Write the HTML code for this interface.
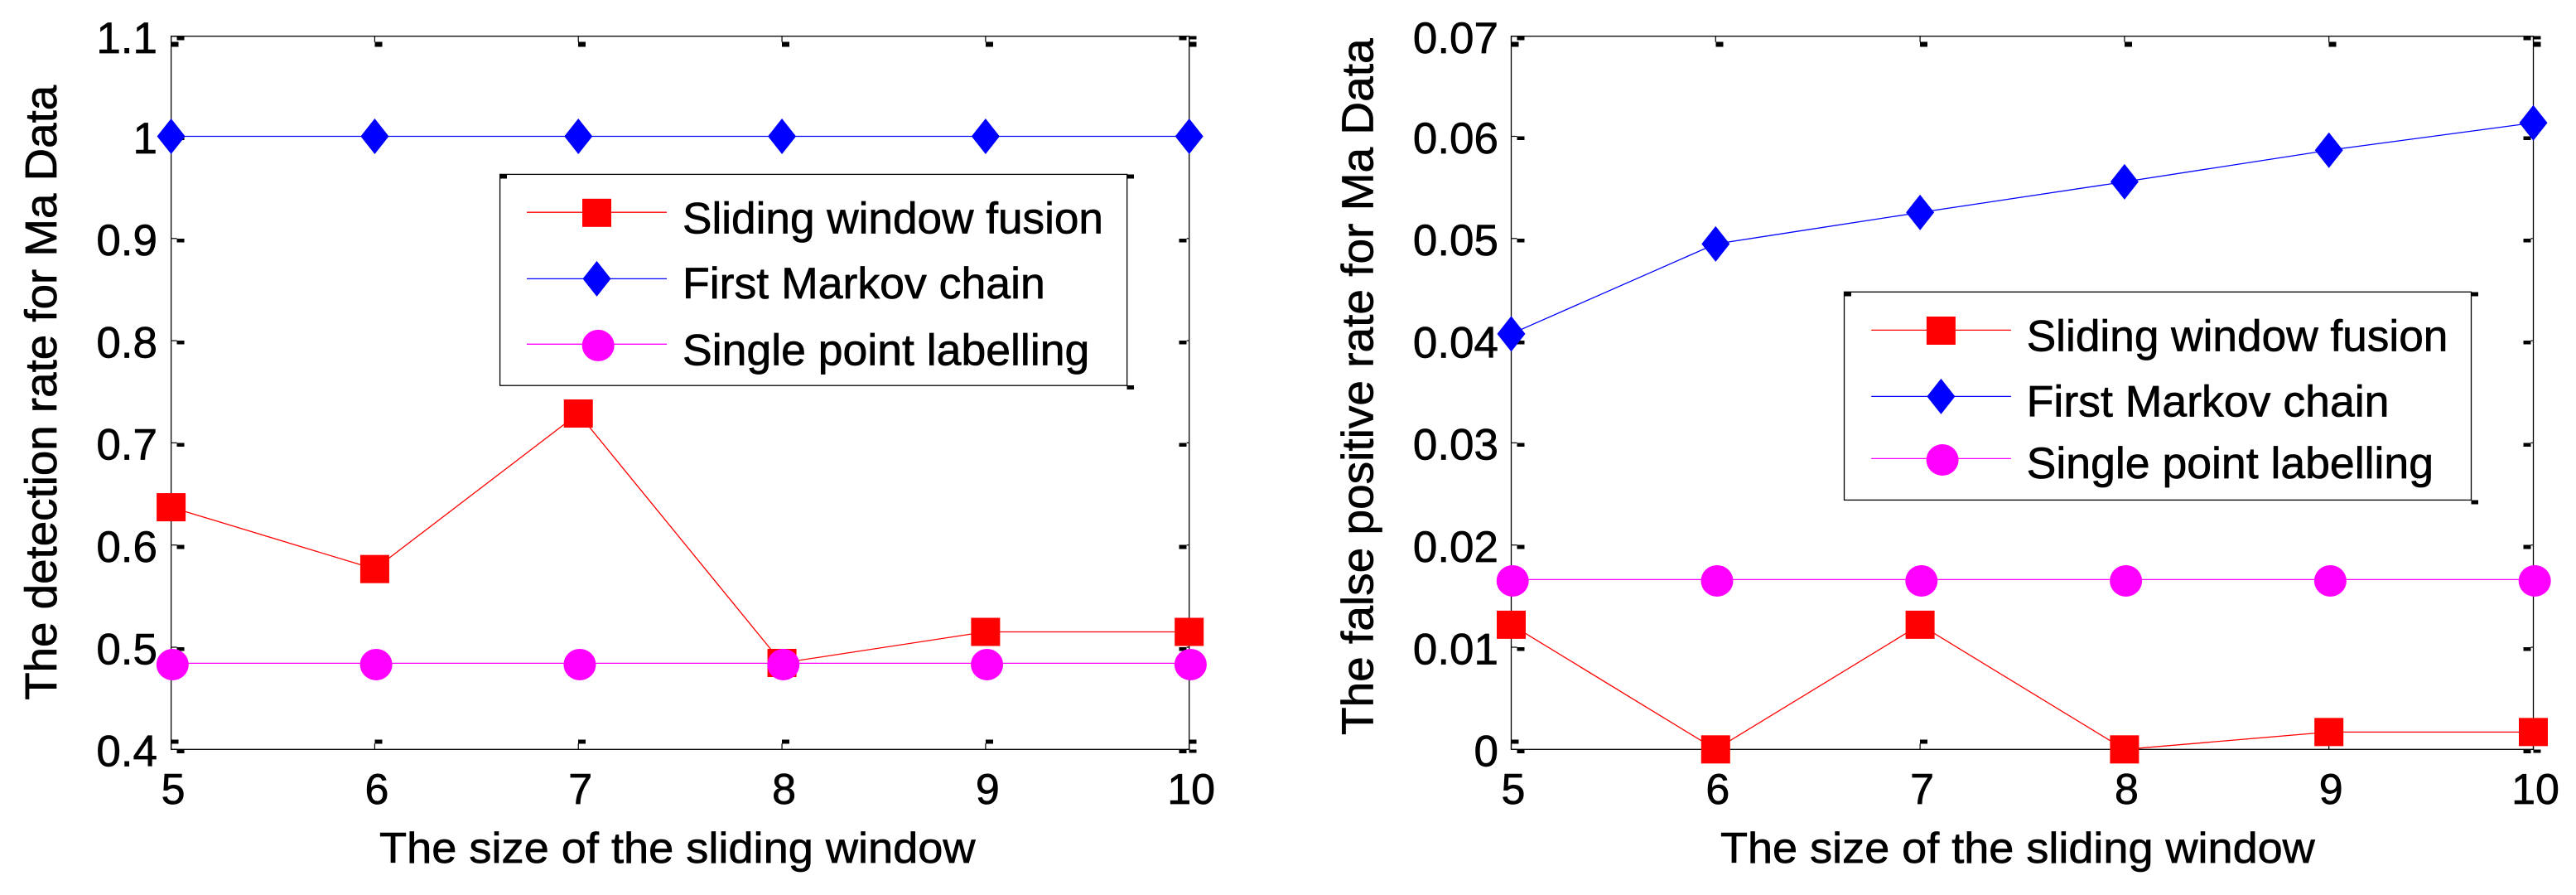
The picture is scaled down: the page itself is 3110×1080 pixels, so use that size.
<!DOCTYPE html>
<html>
<head>
<meta charset="utf-8">
<title>Detection and false positive rates for Ma Data</title>
<style>
html,body{margin:0;padding:0;background:#fff;}
svg{display:block;}
text{font-family:"Liberation Sans",sans-serif;fill:#000;stroke:#000;stroke-width:0.7px;}
</style>
</head>
<body>
<svg id="figure" xmlns="http://www.w3.org/2000/svg" width="3110" height="1080" viewBox="0 0 3110 1080">
  <rect x="0" y="0" width="3110" height="1080" fill="#fff"/>
  <g id="left-chart"></g>
  <g id="right-chart"></g>
</svg>
<script>
// Shared categories
const windowSizes = [5, 6, 7, 8, 9, 10];
const seriesNames = ["Sliding window fusion", "First Markov chain", "Single point labelling"];

// Left chart values
const detectionYTicks = [1.1, 1, 0.9, 0.8, 0.7, 0.6, 0.5, 0.4];
const detectionYLabels = ["1.1", "1", "0.9", "0.8", "0.7", "0.6", "0.5", "0.4"];
const detectionSliding = [0.637, 0.5765, 0.7287, 0.4846, 0.515, 0.515];
const detectionMarkov = [1, 1, 1, 1, 1, 1];
const detectionSingle = [0.4843, 0.4843, 0.4843, 0.4843, 0.4843, 0.4843];

// Right chart values
const falsePosYTicks = [0.07, 0.06, 0.05, 0.04, 0.03, 0.02, 0.01, 0];
const falsePosYLabels = ["0.07", "0.06", "0.05", "0.04", "0.03", "0.02", "0.01", "0"];
const falsePosSliding = [0.0122, 0, 0.0122, 0, 0.0017, 0.0017];
const falsePosMarkov = [0.04067, 0.04947, 0.05255, 0.05555, 0.05864, 0.06132];
const falsePosSingle = [0.01662, 0.01662, 0.01662, 0.01662, 0.01662, 0.01662];

const SVGNS = "http://www.w3.org/2000/svg";
const COLORS = ["#ff0000", "#0000ff", "#ff00ff"];
const KEYS = ["sliding-window-fusion", "first-markov-chain", "single-point-labelling"];

function mk(parent, tag, attrs, txt) {
  const el = document.createElementNS(SVGNS, tag);
  for (const k in attrs) el.setAttribute(k, attrs[k]);
  if (txt !== undefined) el.textContent = txt;
  parent.appendChild(el);
  return el;
}

function drawMarker(parent, kind, cx, cy, name) {
  let el;
  if (kind === 0) {
    el = mk(parent, "rect", {x: cx - 17.5, y: cy - 17, width: 35, height: 34, fill: COLORS[0]});
  } else if (kind === 1) {
    el = mk(parent, "polygon", {
      points: (cx - 17) + "," + cy + " " + cx + "," + (cy - 21.5) + " " + (cx + 17) + "," + cy + " " + cx + "," + (cy + 21.5),
      fill: COLORS[1]
    });
  } else {
    el = mk(parent, "ellipse", {cx: cx + 1.7, cy: cy + 1.6, rx: 19.5, ry: 19, fill: COLORS[2]});
  }
  
  
  return el;
}

function blob(parent, x, y, w, h) {
  const el = mk(parent, "rect", {x: x, y: y, width: w, height: h, fill: "#000", "shape-rendering": "crispEdges"});
  
  
}

function tickLine(parent, x1, y1, x2, y2) {
  const el = mk(parent, "line", {x1: x1, y1: y1, x2: x2, y2: y2, stroke: "#000", "stroke-width": 1.2});
  
  
}

function label(parent, x, y, str, name, extra) {
  const a = Object.assign({x: x, y: y, "font-size": 53}, extra || {});
  const el = mk(parent, "text", a, str);
  
  
  return el;
}

function drawChart(cfg) {
  const g = document.getElementById(cfg.id);
  const top = 43.7, bottom = 904.3;
  const xs = v => cfg.left + (v - windowSizes[0]) / (windowSizes[windowSizes.length - 1] - windowSizes[0]) * (cfg.right - cfg.left);
  const ys = v => bottom - (v - cfg.yMin) * cfg.pxPerUnit;

  // ticks on all four sides
  windowSizes.forEach(v => {
    const x = xs(v);
    tickLine(g, x, top, x, top + 7);
    blob(g, x, top + 7, 9, 6);
    tickLine(g, x, bottom - 7, x, bottom);
    blob(g, x, bottom - 12, 9, 5);
    const t = label(g, x + 2.5, 969.8, String(v), "x-tick-label-" + v, {"text-anchor": "middle"});
    t.setAttribute("font-size", 52);
  });
  cfg.yTicks.forEach((v, i) => {
    const y = Math.max(top, ys(v));
    tickLine(g, cfg.left, y, cfg.left + 7, y);
    blob(g, cfg.left + 7, y, 9, 4.6);
    tickLine(g, cfg.right - 3, y, cfg.right, y);
    blob(g, cfg.right - 12, y, 9, 4.6);
    label(g, cfg.yLabelX, y + 20.3, cfg.yLabels[i], "y-tick-label-" + cfg.yLabels[i], {"text-anchor": "end"});
  });
  blob(g, cfg.right, top, 9, 4);
  blob(g, cfg.right, bottom, 9, 4.4);

  // plot frame
  const frame = mk(g, "rect", {x: cfg.left, y: top, width: cfg.right - cfg.left, height: bottom - top, fill: "none", stroke: "#000", "stroke-width": 1.3});
  
  

  // series
  cfg.series.forEach((vals, s) => {
    const pts = vals.map((v, i) => xs(windowSizes[i]) + "," + ys(v)).join(" ");
    const line = mk(g, "polyline", {points: pts, fill: "none", stroke: COLORS[s], "stroke-width": 1.3});
    
    
  });
  cfg.series.forEach((vals, s) => {
    vals.forEach((v, i) => {
      drawMarker(g, s, xs(windowSizes[i]), ys(v), KEYS[s] + "-point-" + windowSizes[i]);
    });
  });

  // axis titles
  const xt = label(g, cfg.xTitleX, 1041, "The size of the sliding window", "x-axis-title", {textLength: cfg.xTitleLen, lengthAdjust: "spacingAndGlyphs"});
  xt.setAttribute("font-size", 52);
  label(g, cfg.yTitleX, cfg.yTitleY, cfg.yTitle, "y-axis-title", {
    textLength: cfg.yTitleLen, lengthAdjust: "spacingAndGlyphs",
    transform: "rotate(-90 " + cfg.yTitleX + " " + cfg.yTitleY + ")", "font-size": 54
  });

  // legend
  const L = cfg.legend;
  const lg = mk(g, "g", {});
  
  
  const box = mk(lg, "rect", {x: L.x1, y: L.y1, width: L.x2 - L.x1, height: L.y2 - L.y1, fill: "#fff", stroke: "#000", "stroke-width": 1.3});
  
  
  blob(lg, L.x1, L.y1, 8.5, 5);
  blob(lg, L.x2, L.y1, 8.5, 5);
  blob(lg, L.x2, L.y2, 8.5, 5);
  seriesNames.forEach((nm, s) => {
    const ln = mk(lg, "line", {x1: L.lineX1, x2: L.lineX2, y1: L.rowY[s], y2: L.rowY[s], stroke: COLORS[s], "stroke-width": 1.3});
    
    
    drawMarker(lg, s, L.markerX, L.rowY[s] + (s === 0 ? 0.6 : 0), 'legend-marker-' + KEYS[s]);
    label(lg, L.textX, L.baseY[s], nm, 'legend-entry-' + KEYS[s], {textLength: L.textLen[s], lengthAdjust: "spacingAndGlyphs"});
  });
}

drawChart({
  id: "left-chart",
  left: 206.6, right: 1435.7, yMin: 0.4, pxPerUnit: 1233,
  yTicks: detectionYTicks, yLabels: detectionYLabels, yLabelX: 190,
  series: [detectionSliding, detectionMarkov, detectionSingle],
  xTitleX: 458, xTitleLen: 719.5,
  yTitle: "The detection rate for Ma Data", yTitleX: 68, yTitleY: 844.8, yTitleLen: 742,
  legend: {x1: 603.6, x2: 1360.7, y1: 210.4, y2: 465.2, lineX1: 636, lineX2: 805, markerX: 720.5,
    rowY: [256.2, 336.4, 415.3], textX: 824, baseY: [281.7, 360.2, 440.4], textLen: [508, 437.8, 491.3]}
});

drawChart({
  id: "right-chart",
  left: 1824.5, right: 3058.5, yMin: 0, pxPerUnit: 12330,
  yTicks: falsePosYTicks, yLabels: falsePosYLabels, yLabelX: 1809,
  series: [falsePosSliding, falsePosMarkov, falsePosSingle],
  xTitleX: 2077, xTitleLen: 717.7,
  yTitle: "The false positive rate for Ma Data", yTitleX: 1657.7, yTitleY: 887, yTitleLen: 840.6,
  legend: {x1: 2226.5, x2: 2983.5, y1: 352.3, y2: 603.4, lineX1: 2259.2, lineX2: 2427.9, markerX: 2343.4,
    rowY: [398.4, 478.4, 553.4], textX: 2446.7, baseY: [423.6, 502.7, 577.2], textLen: [508.7, 437.8, 491.3]}
});
</script>
</body>
</html>
